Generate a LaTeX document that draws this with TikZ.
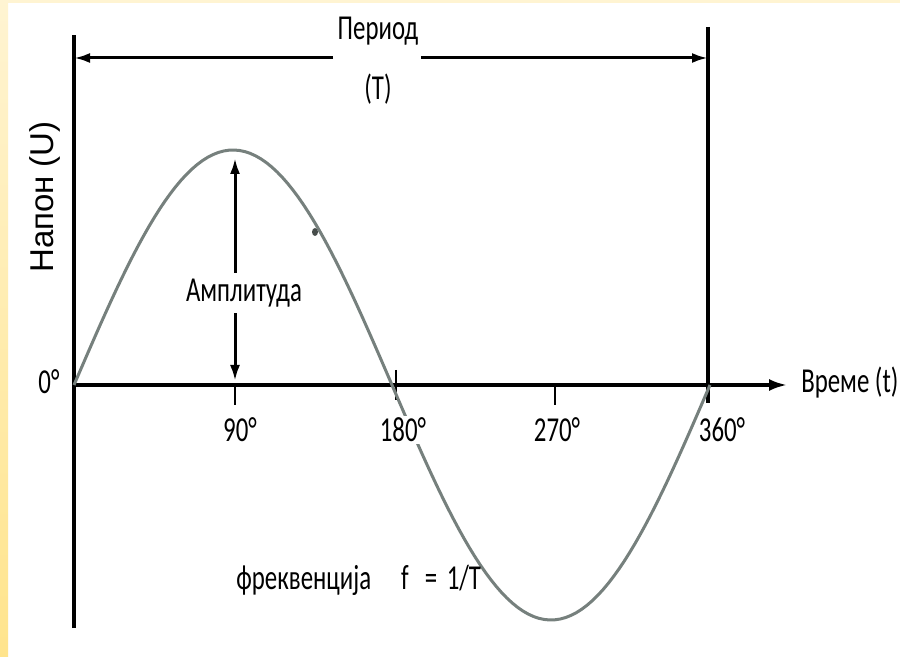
\documentclass[tikz,border=0pt]{standalone}
\usepackage{fontspec}
\usepackage{tikz}
\usetikzlibrary{positioning, calc, arrows.meta}
\newfontfamily\lblfont[FakeStretch=0.71]{Carlito}
\newfontfamily\axfont{Liberation Sans}
\definecolor{wavegray}{RGB}{118,128,125}
\definecolor{glowtop}{RGB}{255,244,210}
\definecolor{glowbot}{RGB}{255,228,140}

\begin{document}
\begin{tikzpicture}[x=0.5pt, y=-0.5pt,
  axis/.style={line width=1.6pt, black},
  tick/.style={line width=1pt, black},
  arr/.style={line width=1.5pt, -{Latex[length=8pt, width=5pt]}},
  wave/.style={line width=1.5pt, wavegray},
  lbl/.style={font=\lblfont\fontsize{17.5}{19}\selectfont, inner sep=1pt},
  lblw/.style={lbl, fill=white, inner sep=3pt}]
% background with the yellow glow on the left and top
\useasboundingbox (0,0) rectangle (900,657);
\fill[white] (0,0) rectangle (900,657);
\shade[top color=glowtop, bottom color=glowbot] (0,0) rectangle (8,657);
\fill[glowtop] (8,0) rectangle (900,3);

% axes
\coordinate (origin) at (74,385);
\coordinate (ytop) at (74,35);
\coordinate (ybot) at (74,628);
\coordinate (xend) at (787,385);
\draw[axis] (ybot) -- (ytop);
\draw[axis, -{Latex[length=9pt, width=6pt]}] (origin) -- (xend);
\draw[axis] (708,27) coordinate (ptop) -- (708,403) coordinate (pbot);

% ticks
\draw[tick] (235,385) -- (235,405);
\draw[tick, line width=1.4pt] (396,370) -- (396,400);
\draw[tick] (555,385) -- (555,405);

% the wave
\draw[wave] plot[domain=0:360, samples=120] ({74+\x/360*636}, {385-235*sin(\x)});
\fill[wavegray!60!black] (315,232) ellipse (3 and 4);

% period
\coordinate (tl) at (74,58);
\coordinate (tr) at (708,58);
\node[minimum width=43.5pt, inner sep=0pt] (gap) at (377,58) {};
\draw[arr] (gap.west) -- (tl);
\draw[arr] (gap.east) -- (tr);
\node[lbl] (period) at (378,31) {Период};
\node[lbl] (periodT) at (378,89) {(T)};

% amplitude
\coordinate (peak) at (235,158);
\coordinate (foot) at (235,381);
\draw[arr, {Latex[length=8pt, width=5pt]}-{Latex[length=8pt, width=5pt]}] (peak) -- (foot);
\node[lblw] (amp) at (244,293) {Амплитуда};

% degree labels
\node[lbl] (d0) at (49,382) {0°};
\node[lbl] (d90) at (240,430) {90°};
\node[lblw, inner sep=1pt] (d180) at (403,430) {180°};
\node[lbl] (d270) at (557,430) {270°};
\node[lbl] (d360) at (722,430) {360°};

% axis names
\node[lbl, anchor=west] (time) at (799,383) {Време (t)};
\node[font=\axfont\fontsize{16.5}{18}\selectfont, rotate=90] (volt) at (45,197) {Напон (U)};
\node[lbl, anchor=west] (freq) at (234,580) {фреквенција\hspace{15pt}f\hspace{8pt}=\hspace{2pt} 1/T};
\end{tikzpicture}
\end{document}
